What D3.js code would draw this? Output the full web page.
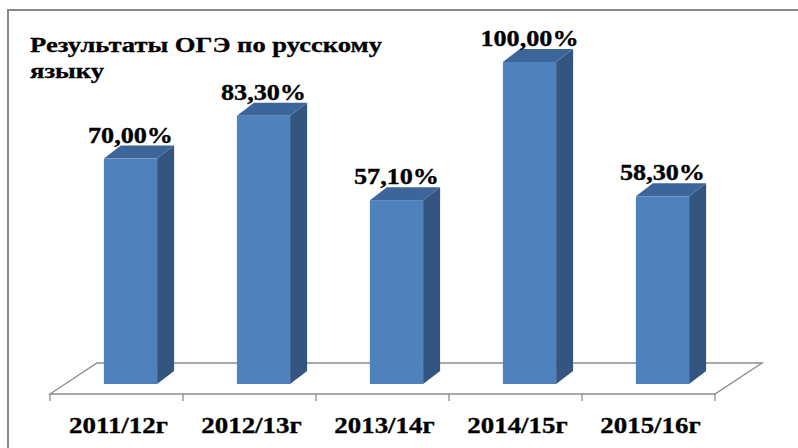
<!DOCTYPE html>
<html>
<head>
<meta charset="utf-8">
<script src="https://cdn.jsdelivr.net/npm/d3@7"></script>
<style>
  body { margin: 0; background: #fff; }
</style>
</head>
<body>
<svg id="chart" width="798" height="448"></svg>
<script>
// data
var categories = ["2011/12г", "2012/13г", "2013/14г", "2014/15г", "2015/16г"];
var values = [70.0, 83.3, 57.1, 100.0, 58.3];
var valueLabels = ["70,00%", "83,30%", "57,10%", "100,00%", "58,30%"];
var titleLines = ["Результаты ОГЭ по русскому", "языку"];

var width = 798, height = 448;
var fontFamily = "Liberation Serif";
var svg = d3.select("#chart");

// 3d floor depth
var floorDx = 47, floorDy = -31;
var barDx = 17, barDy = -13;
var shiftDx = 14, shiftDy = -10;
var floorY = 394;

var x = d3.scaleBand()
  .domain(categories)
  .range([50, 715])
  .paddingInner(0)
  .paddingOuter(0);

var barW = x.bandwidth() * 0.4;

var y = d3.scaleLinear()
  .domain([0, 100])
  .range([floorY + shiftDy, 62]);

// stretch text horizontally like the original picture
function stretch(sel, k) {
  sel.each(function() {
    var w = this.getComputedTextLength();
    if (w > 0) {
      d3.select(this)
        .attr("textLength", w * k)
        .attr("lengthAdjust", "spacingAndGlyphs");
    }
  });
}

// frame
svg.append("rect")
  .attr("x", 8).attr("y", 10)
  .attr("width", 830).attr("height", 480)
  .attr("fill", "none")
  .attr("stroke", "#888888")
  .attr("stroke-width", 2);

// floor
var x0 = x.range()[0], x1 = x.range()[1];
svg.append("path")
  .attr("d", "M" + x0 + "," + floorY + "L" + (x0 + floorDx) + "," + (floorY + floorDy) +
    "L" + (x1 + floorDx) + "," + (floorY + floorDy) + "L" + x1 + "," + floorY + "Z")
  .attr("fill", "none")
  .attr("stroke", "#8c8c8c")
  .attr("stroke-width", 1.3);

// ticks
var tickPos = categories.map(function(c) { return x(c); }).concat([x1]);
svg.selectAll(".tick")
  .data(tickPos)
  .enter().append("line")
  .attr("x1", function(d) { return d; })
  .attr("x2", function(d) { return d; })
  .attr("y1", floorY)
  .attr("y2", floorY + 7)
  .attr("stroke", "#8c8c8c")
  .attr("stroke-width", 1.3);

// bars
var bars = svg.selectAll(".bar")
  .data(values)
  .enter().append("g")
  .attr("class", "bar");

function bx(i) {
  return x(categories[i]) + x.bandwidth() / 2 - barW / 2 + shiftDx;
}

// side
bars.append("path")
  .attr("d", function(d, i) {
    var l = bx(i) + barW, t = y(d), b = y(0);
    return "M" + l + "," + t + "L" + (l + barDx) + "," + (t + barDy) +
      "L" + (l + barDx) + "," + (b + barDy) + "L" + l + "," + b + "Z";
  })
  .attr("fill", "#34557f");

// top
bars.append("path")
  .attr("d", function(d, i) {
    var l = bx(i), t = y(d);
    return "M" + l + "," + t + "L" + (l + barDx) + "," + (t + barDy) +
      "L" + (l + barW + barDx) + "," + (t + barDy) + "L" + (l + barW) + "," + t + "Z";
  })
  .attr("fill", "#3c6599");

// front
bars.append("rect")
  .attr("x", function(d, i) { return bx(i); })
  .attr("y", function(d) { return y(d); })
  .attr("width", barW)
  .attr("height", function(d) { return y(0) - y(d); })
  .attr("fill", "#4f81bd");

// value labels
var vals = bars.append("text")
  .attr("x", function(d, i) { return bx(i) + barW / 2; })
  .attr("y", function(d) { return y(d) - 16; })
  .attr("text-anchor", "middle")
  .attr("font-family", fontFamily)
  .attr("font-weight", "bold")
  .attr("font-size", 24)
  .attr("stroke", "#000")
  .attr("stroke-width", 0.35)
  .text(function(d, i) { return valueLabels[i]; });
stretch(vals, 1.09);

// category labels
var cats = svg.selectAll(".cat")
  .data(categories)
  .enter().append("text")
  .attr("class", "cat")
  .attr("x", function(d) { return x(d) + x.bandwidth() / 2 + 2; })
  .attr("y", 433)
  .attr("text-anchor", "middle")
  .attr("font-family", fontFamily)
  .attr("font-weight", "bold")
  .attr("font-size", 24)
  .attr("stroke", "#000")
  .attr("stroke-width", 0.35)
  .text(function(d) { return d; });
stretch(cats, 1.12);

// title
var title = svg.selectAll(".title")
  .data(titleLines)
  .enter().append("text")
  .attr("class", "title")
  .attr("x", 30)
  .attr("y", function(d, i) { return 52 + i * 26; })
  .attr("font-family", fontFamily)
  .attr("font-weight", "bold")
  .attr("font-size", 20)
  .attr("stroke", "#000")
  .attr("stroke-width", 0.3)
  .text(function(d) { return d; });
var titleW = title.node().getComputedTextLength();
stretch(title, titleW > 0 ? 352 / titleW : 1);
</script>
</body>
</html>
